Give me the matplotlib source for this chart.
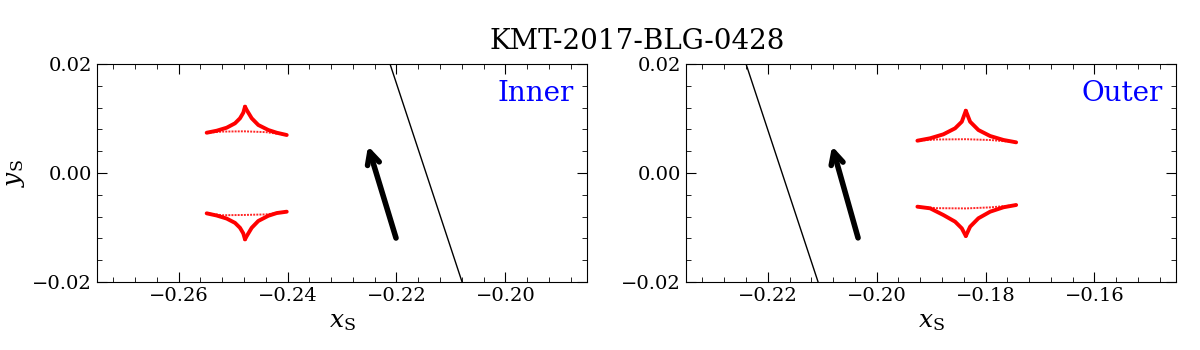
import numpy as np
import matplotlib
matplotlib.use('Agg')
import matplotlib.pyplot as plt
from matplotlib.ticker import MultipleLocator

plt.rcParams['font.family'] = 'DejaVu Serif'
plt.rcParams['mathtext.fontset'] = 'dejavuserif'

title = 'KMT-2017-BLG-0428'
labels = ['Inner', 'Outer']
xlims = [(-0.275, -0.185), (-0.235, -0.145)]
ylim = (-0.02, 0.02)

# caustic edges, (x, y) pairs
# inner solution
in_up_left = [(-0.25485, 0.00739), (-0.25301, 0.00776), (-0.25118, 0.00831), (-0.24965, 0.00912),
              (-0.24873, 0.01004), (-0.24813, 0.01106), (-0.24781, 0.01217)]
in_up_right = [(-0.24781, 0.01217), (-0.24750, 0.01156), (-0.24658, 0.01004), (-0.24537, 0.00881),
               (-0.24353, 0.00789), (-0.24199, 0.00739), (-0.24015, 0.00697)]
in_up_flat = [(-0.25485, 0.00739), (-0.2520, 0.00760), (-0.2480, 0.00765), (-0.2440, 0.00750), (-0.24015, 0.00697)]
in_lo_left = [(-0.25485, -0.00740), (-0.25301, -0.00780), (-0.25118, -0.00836), (-0.24965, -0.00915),
              (-0.24873, -0.01006), (-0.24813, -0.01108), (-0.24781, -0.01217)]
in_lo_right = [(-0.24781, -0.01217), (-0.24750, -0.01158), (-0.24658, -0.01005), (-0.24537, -0.00880),
               (-0.24353, -0.00785), (-0.24199, -0.00735), (-0.24015, -0.00710)]
in_lo_flat = [(-0.25485, -0.00740), (-0.2520, -0.00775), (-0.2480, -0.00770), (-0.2440, -0.00760), (-0.24015, -0.00710)]

# outer solution
out_up_left = [(-0.19251, 0.00593), (-0.19018, 0.00637), (-0.18774, 0.00710), (-0.18559, 0.00820),
               (-0.18436, 0.00941), (-0.18362, 0.01143)]
out_up_right = [(-0.18362, 0.01143), (-0.18283, 0.00941), (-0.18131, 0.00789), (-0.17916, 0.00679),
                (-0.17671, 0.00606), (-0.17438, 0.00563)]
out_up_flat = [(-0.19251, 0.00593), (-0.1890, 0.00615), (-0.1836, 0.00620), (-0.1790, 0.00605), (-0.17438, 0.00563)]
out_lo_left = [(-0.19251, -0.00618), (-0.19018, -0.00648), (-0.18774, -0.00771), (-0.18559, -0.00893),
               (-0.18436, -0.01015), (-0.18362, -0.01156)]
out_lo_right = [(-0.18362, -0.01156), (-0.18283, -0.00985), (-0.18131, -0.00831), (-0.17916, -0.00710),
                (-0.17671, -0.00629), (-0.17438, -0.00587)]
out_lo_flat = [(-0.19251, -0.00618), (-0.1890, -0.00645), (-0.1836, -0.00650), (-0.1790, -0.00630), (-0.17438, -0.00587)]

# source trajectory (two points each) and direction arrows (tail, tip)
traj = [[(-0.22118, 0.02), (-0.20795, -0.02)], [(-0.22398, 0.02), (-0.21075, -0.02)]]
arrows = [[(-0.22008, -0.01193), (-0.22522, 0.00495)], [(-0.20341, -0.01190), (-0.20818, 0.00495)]]

caustics = [[in_up_left, in_up_right, in_lo_left, in_lo_right],
            [out_up_left, out_up_right, out_lo_left, out_lo_right]]
flats = [[in_up_flat, in_lo_flat], [out_up_flat, out_lo_flat]]

fig = plt.figure(figsize=(12, 3.5), dpi=100)
positions = [[0.0808, 0.1943, 0.4084, 0.6228], [0.5717, 0.1943, 0.4084, 0.6228]]
fig.suptitle(title, fontsize=20, x=0.531, y=0.92)

for i in range(2):
    ax = fig.add_axes(positions[i])
    for seg in caustics[i]:
        seg = np.array(seg)
        ax.plot(seg[:, 0], seg[:, 1], '-', color='red', lw=2.8, solid_capstyle='round',
                solid_joinstyle='round')
    for seg in flats[i]:
        seg = np.array(seg)
        ax.plot(seg[:, 0], seg[:, 1], linestyle=(0, (1, 0.6)), color='red', lw=1.4, alpha=0.85)
    t = np.array(traj[i])
    ax.plot(t[:, 0], t[:, 1], 'k-', lw=1)
    a = arrows[i]
    ax.annotate('', xy=a[1], xytext=a[0],
                arrowprops=dict(arrowstyle='->', lw=4, color='k', mutation_scale=22, shrinkA=0, shrinkB=0))
    ax.text(0.972, 0.865, labels[i], transform=ax.transAxes, ha='right', va='center',
            color='blue', fontsize=20)
    ax.set_xlim(*xlims[i])
    ax.set_ylim(*ylim)
    ax.xaxis.set_major_locator(MultipleLocator(0.02))
    ax.xaxis.set_minor_locator(MultipleLocator(0.004))
    ax.yaxis.set_major_locator(MultipleLocator(0.02))
    ax.yaxis.set_minor_locator(MultipleLocator(0.004))
    ax.tick_params(which='both', direction='in', top=True, right=True, labelsize=14)
    ax.tick_params(which='major', length=7)
    ax.tick_params(which='minor', length=3.5)
    ax.set_xlabel(r'$x_{\rm S}$', fontsize=18)
    if i == 0:
        ax.set_ylabel(r'$y_{\rm S}$', fontsize=18)

fig.savefig('out.png', dpi=100)
plt.close()
